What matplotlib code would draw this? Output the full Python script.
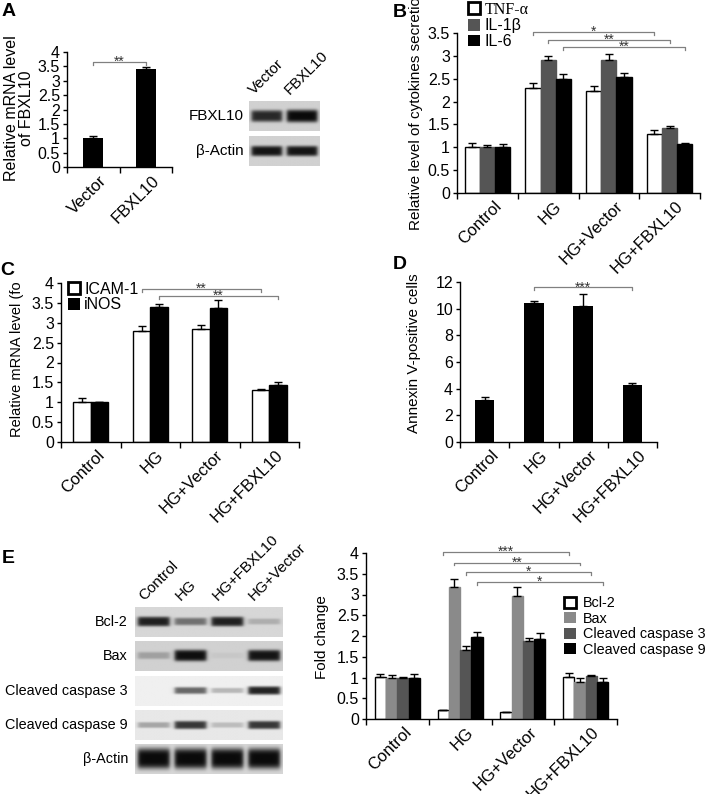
import numpy as np
import matplotlib
matplotlib.use("Agg")
import matplotlib.pyplot as plt
from matplotlib.patches import Patch
from matplotlib.transforms import Bbox, ScaledTranslation

plt.rcParams['font.family'] = ['Liberation Sans', 'DejaVu Sans']

W, H = 709, 794
groups = ["Control", "HG", "HG+Vector", "HG+FBXL10"]

# --- A: FBXL10 overexpression
a_cats = ["Vector", "FBXL10"]
a_vals = [1.0, 3.4]
a_err = [0.08, 0.08]
a_blot_lanes = ["Vector", "FBXL10"]
a_blot_rows = ["FBXL10", "β-Actin"]
a_blot_int = [[0.85, 1.0], [0.95, 0.95]]

# --- B: cytokines
b_series = ["TNF-α", "IL-1β", "IL-6"]
b_vals = [[1.0, 2.3, 2.23, 1.3],
          [1.0, 2.9, 2.91, 1.42],
          [1.0, 2.5, 2.53, 1.07]]
b_err = [[0.1, 0.11, 0.11, 0.08],
         [0.06, 0.1, 0.13, 0.04],
         [0.07, 0.11, 0.1, 0.03]]

# --- C: ICAM-1 / iNOS
c_series = ["ICAM-1", "iNOS"]
c_vals = [[1.0, 2.8, 2.85, 1.3],
          [1.0, 3.4, 3.38, 1.43]]
c_err = [[0.1, 0.12, 0.1, 0.03],
         [0.01, 0.07, 0.2, 0.07]]

# --- D: Annexin V
d_vals = [3.15, 10.4, 10.2, 4.25]
d_err = [0.2, 0.2, 0.9, 0.2]

# --- E: apoptosis markers
e_series = ["Bcl-2", "Bax", "Cleaved caspase 3", "Cleaved caspase 9"]
e_vals = [[1.02, 0.22, 0.17, 1.02],
          [0.98, 3.18, 2.97, 0.88],
          [0.98, 1.66, 1.88, 1.03],
          [0.98, 1.97, 1.93, 0.88]]
e_err = [[0.07, 0.0, 0.0, 0.1],
         [0.07, 0.2, 0.2, 0.1],
         [0.03, 0.1, 0.08, 0.04],
         [0.1, 0.12, 0.14, 0.1]]
e_blot_lanes = ["Control", "HG", "HG+FBXL10", "HG+Vector"]
e_blot_rows = ["Bcl-2", "Bax", "Cleaved caspase 3", "Cleaved caspase 9", "β-Actin"]
e_blot_int = [[0.9, 0.5, 0.9, 0.2],
              [0.25, 0.98, 0.05, 0.95],
              [0.0, 0.6, 0.25, 0.9],
              [0.3, 0.8, 0.2, 0.8],
              [1.0, 1.0, 1.0, 1.0]]
e_blot_bg = [0.84, 0.82, 0.94, 0.91, 0.84]
e_blot_thick = [0.14, 0.16, 0.12, 0.13, 0.28]

fig = plt.figure(figsize=(W / 100, H / 100), dpi=100)


def px_axes(left, top, right, bottom):
    return fig.add_axes([left / W, 1 - bottom / H, (right - left) / W, (bottom - top) / H])


def style_axes(ax, n, ymax, ystep, labels=None):
    for s in ["top", "right"]:
        ax.spines[s].set_visible(False)
    for s in ["left", "bottom"]:
        ax.spines[s].set_linewidth(1.0)
    ax.set_xlim(-0.5, n - 0.5)
    ax.set_ylim(0, ymax)
    yt = np.arange(0, ymax + 1e-9, ystep)
    ax.set_yticks(yt)
    ax.set_yticklabels(["{:g}".format(v) for v in yt], fontsize=11.5)
    ax.tick_params(axis="y", length=3, width=1, pad=2)
    ax.set_xticks(np.arange(-0.5, n, 1))
    ax.set_xticklabels([])
    ax.tick_params(axis="x", length=4, width=1)
    ax.set_xticks(range(n), minor=True)
    ax.set_xticklabels(labels if labels else groups, minor=True, rotation=45,
                       ha="right", va="top", rotation_mode="anchor", fontsize=12)
    ax.tick_params(axis="x", which="minor", length=0, pad=4)
    off = ScaledTranslation(6 / 100, 0, fig.dpi_scale_trans)
    for t in ax.get_xticklabels(minor=True):
        t.set_transform(t.get_transform() + off)


def grouped(ax, vals, errs, colors, width):
    n = len(vals)
    x = np.arange(len(vals[0]))
    for i, (v, e, c) in enumerate(zip(vals, errs, colors)):
        pos = x + (i - (n - 1) / 2) * width
        ec = "black" if c == "white" else c
        ax.bar(pos, v, width, color=c, edgecolor=ec, linewidth=1.0, zorder=2)
        ax.errorbar(pos, v, yerr=[np.zeros(len(e)), e], fmt="none", ecolor="black",
                    elinewidth=1.0, capsize=3, capthick=1.0, zorder=3)


def bracket(ax, x1, x2, y, stars, drop):
    ax.plot([x1, x1, x2, x2], [y - drop, y, y, y - drop], color="#808080", lw=0.9,
            clip_on=False, zorder=4)
    ax.text((x1 + x2) / 2, y, stars, ha="center", va="center", fontsize=10,
            color="#333333", clip_on=False)


def blot(ax, intens, bg, thick):
    nl = len(intens)
    x = np.linspace(0, nl, 200)
    y = np.linspace(0, 1, 40)
    X, Y = np.meshgrid(x, y)
    img = np.full(X.shape, bg)
    for i, v in enumerate(intens):
        hw = 0.43
        xp = 1 / (1 + np.exp(-(X - (i + 0.5 - hw)) / 0.03)) * 1 / (1 + np.exp((X - (i + 0.5 + hw)) / 0.03))
        yp = np.exp(-((Y - 0.5) / (thick * (0.6 + 0.6 * v))) ** 4)
        img = img - bg * 0.95 * v * xp * yp
    ax.imshow(np.clip(img, 0, 1), cmap="gray", vmin=0, vmax=1, aspect="auto",
              extent=(0, nl, 0, 1), interpolation="bilinear")
    ax.set_axis_off()


def panel_letter(x, y, s):
    fig.text(x / W, 1 - y / H, s, fontsize=14, fontweight="bold", ha="left", va="top")


# ---------------- A
ax = px_axes(67, 52, 172, 167)
ax.bar(range(2), a_vals, 0.38, color="black", zorder=2)
ax.errorbar(range(2), a_vals, yerr=[np.zeros(2), a_err], fmt="none", ecolor="black",
            elinewidth=1, capsize=3, zorder=3)
style_axes(ax, 2, 4, 0.5, labels=a_cats)
bracket(ax, 0, 1, 3.65, "**", 0.1)
fig.text(19 / W, 1 - 108 / H, "Relative mRNA level\nof FBXL10", rotation=90,
         ha="center", va="center", fontsize=11.5, multialignment="center", linespacing=1.0)
panel_letter(2, 3, "A")

for r, (name, inten) in enumerate(zip(a_blot_rows, a_blot_int)):
    top = [101, 136][r]
    bax = px_axes(249, top, 320, top + 30)
    blot(bax, inten, 0.82, 0.18 if r == 0 else 0.15)
    bax.text(-0.08, 0.5, name, transform=bax.transAxes, ha="right", va="center", fontsize=11)
    if r == 0:
        tr = bax.get_xaxis_transform()
        for i, lane in enumerate(a_blot_lanes):
            bax.text(i + 0.2, 1.12, lane, transform=tr, rotation=45, ha="left", va="bottom",
                     rotation_mode="anchor", fontsize=11)

# ---------------- B
ax = px_axes(457, 33, 700, 193)
grouped(ax, b_vals, b_err, ["white", "#555555", "black"], 0.25)
style_axes(ax, 4, 3.5, 0.5)
bracket(ax, 0.75, 2.75, 3.52, "*", 0.06)
bracket(ax, 1.0, 3.0, 3.35, "**", 0.06)
bracket(ax, 1.25, 3.25, 3.19, "**", 0.06)
fig.text(416 / W, 1 - 230 / H, "Relative level of cytokines secretion", rotation=90,
         ha="center", va="bottom", fontsize=11)
leg = fig.legend([Patch(facecolor="white", edgecolor="black", linewidth=2),
                  Patch(facecolor="#555555"), Patch(facecolor="black")], b_series,
                 loc="upper left", bbox_to_anchor=(466 / W, 1 - 0 / H), frameon=False,
                 fontsize=11.5, handlelength=0.75, handleheight=0.75, handletextpad=0.3,
                 labelspacing=0.05, borderpad=0.1, borderaxespad=0)
leg.get_texts()[0].set_family("Liberation Serif")
panel_letter(393, 4, "B")

# ---------------- C
ax = px_axes(61, 283, 299, 442)
grouped(ax, c_vals, c_err, ["white", "black"], 0.29)
style_axes(ax, 4, 4, 0.5)
bracket(ax, 0.855, 2.855, 3.85, "**", 0.07)
bracket(ax, 1.145, 3.145, 3.68, "**", 0.07)
yl = fig.text(17 / W, 1 - 437 / H, "Relative mRNA level (fold)", rotation=90,
              ha="center", va="bottom", fontsize=10.5)
yl.set_clip_box(Bbox.from_extents(0, 0, W, H - 282))
yl.set_clip_on(True)
fig.legend([Patch(facecolor="white", edgecolor="black", linewidth=2),
            Patch(facecolor="black")], c_series,
           loc="upper left", bbox_to_anchor=(66 / W, 1 - 280 / H), frameon=False,
           fontsize=11.5, handlelength=0.75, handleheight=0.75, handletextpad=0.3,
           labelspacing=0.05, borderpad=0.1, borderaxespad=0)
panel_letter(0, 262, "C")

# ---------------- D
ax = px_axes(460, 282, 657, 442)
ax.bar(range(4), d_vals, 0.4, color="black", zorder=2)
ax.errorbar(range(4), d_vals, yerr=[np.zeros(4), d_err], fmt="none", ecolor="black",
            elinewidth=1, capsize=3, zorder=3)
style_axes(ax, 4, 12, 2)
bracket(ax, 1, 3, 11.6, "***", 0.2)
fig.text(414 / W, 1 - 433 / H, "Annexin V-positive cells", rotation=90,
         ha="center", va="bottom", fontsize=11)
panel_letter(393, 256, "D")

# ---------------- E blot
tops = [607, 641, 676, 710, 744]
for r, (name, inten) in enumerate(zip(e_blot_rows, e_blot_int)):
    bax = px_axes(135, tops[r], 282, tops[r] + 30)
    blot(bax, inten, e_blot_bg[r], e_blot_thick[r])
    bax.text(-0.048, 0.5, name, transform=bax.transAxes, ha="right", va="center",
             fontsize=10.4)
    if r == 0:
        tr = bax.get_xaxis_transform()
        for i, lane in enumerate(e_blot_lanes):
            bax.text(i + 0.3, 1.12, lane, transform=tr, rotation=45, ha="left",
                     va="bottom", rotation_mode="anchor", fontsize=11)
panel_letter(2, 550, "E")

# ---------------- E chart
ax = px_axes(366, 553, 617, 719)
grouped(ax, e_vals, e_err, ["white", "#8a8a8a", "#555555", "black"], 0.18)
style_axes(ax, 4, 4, 0.5)
bracket(ax, 0.73, 2.73, 4.02, "***", 0.06)
bracket(ax, 0.91, 2.91, 3.76, "**", 0.06)
bracket(ax, 1.09, 3.09, 3.54, "*", 0.06)
bracket(ax, 1.27, 3.27, 3.30, "*", 0.06)
fig.text(322 / W, 1 - 637 / H, "Fold change", rotation=90, ha="center", va="center",
         fontsize=11)
fig.legend([Patch(facecolor="white", edgecolor="black", linewidth=2),
            Patch(facecolor="#8a8a8a"), Patch(facecolor="#555555"), Patch(facecolor="black")],
           e_series, loc="upper left", bbox_to_anchor=(563 / W, 1 - 595 / H), frameon=False,
           fontsize=10.4, handlelength=0.8, handleheight=0.8, handletextpad=0.5,
           labelspacing=0.1, borderpad=0.1, borderaxespad=0)

fig.savefig("out.png", dpi=100)
